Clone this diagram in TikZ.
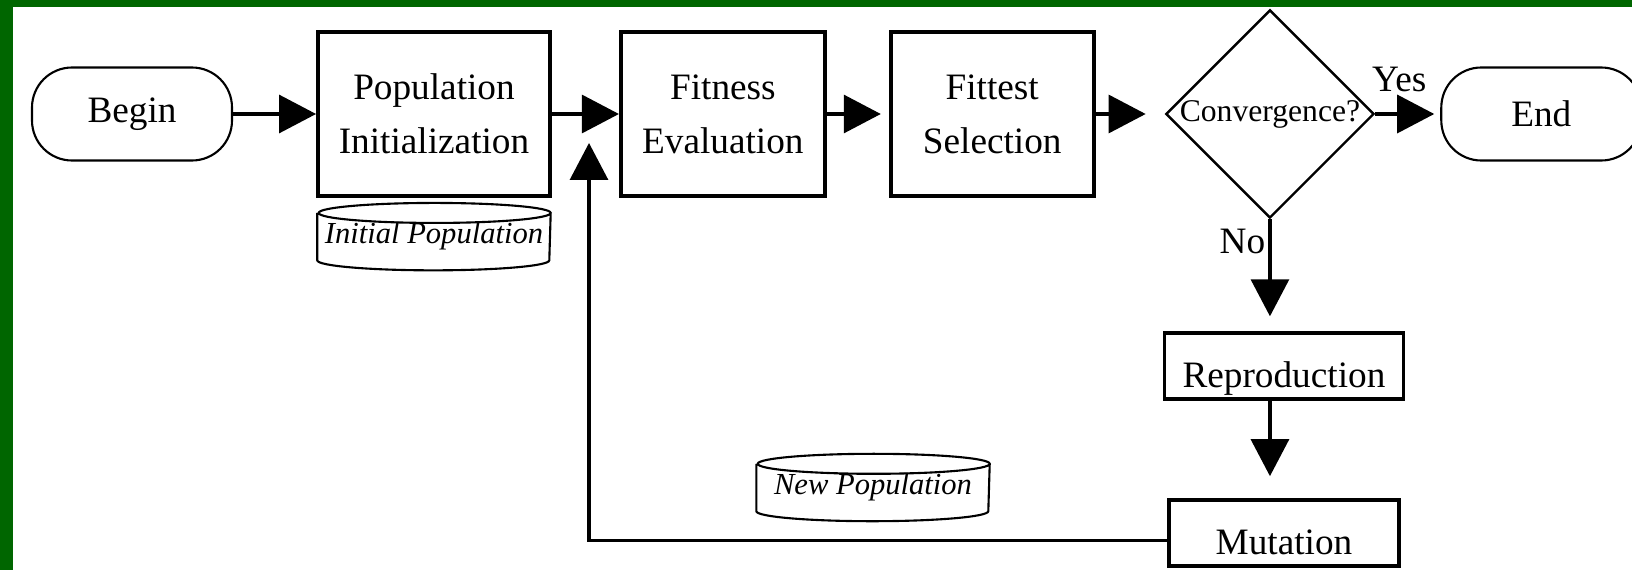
\documentclass[tikz,border=0pt]{standalone}
\usepackage{xcolor}
\usepackage{fontspec}
\setmainfont{Liberation Serif}
\usepackage{tikz}
\usetikzlibrary{shapes.geometric, arrows.meta, positioning, calc}
\definecolor{slidegreen}{HTML}{006600}

\begin{document}
\begin{tikzpicture}[
    node distance=0.65cm and 0.65cm,
    font=\fontsize{10.6}{15.4}\selectfont,
    box/.style={rectangle, draw=black, line width=1.1pt, minimum width=2.04cm, minimum height=1.64cm, align=center, inner sep=2pt},
    terminal/.style={rectangle, rounded corners=0.4cm, draw=black, line width=0.6pt, minimum width=2cm, minimum height=0.93cm},
    decision/.style={diamond, draw=black, line width=0.7pt, inner sep=0pt, font=\fontsize{9}{10}\selectfont},
    smallbox/.style={rectangle, draw=black, line width=1.1pt, minimum height=0.66cm, text height=1.2em, text depth=0pt},
    store/.style={rectangle, inner sep=0pt, minimum width=2.32cm, minimum height=0.66cm, font=\fontsize{8.7}{10}\selectfont\itshape},
    storeline/.style={line width=0.6pt},
    arrow/.style={-{Triangle[length=3.7mm, width=3.8mm]}, line width=0.9pt}
]
    \useasboundingbox (0,0) rectangle (16.32,-5.69);
    \fill[slidegreen] (-0.1,0.1) rectangle (16.5,-5.9);
    \fill[white] (0.13,-0.07) rectangle (16.5,-5.9);

    \node[terminal] (begin) at (1.32,-1.14) {Begin};
    \node[box, minimum width=2.32cm, right=0.83cm of begin] (popinit) {Population\\Initialization};
    \node[box, right=0.67cm of popinit] (fitness) {Fitness\\Evaluation};
    \node[box, minimum width=2.03cm, right=0.62cm of fitness] (fittest) {Fittest\\Selection};
    \node[decision, right=0.69cm of fittest] (conv) {Convergence?};
    \node[terminal, right=0.65cm of conv] (stop) {End};

    \node[smallbox, minimum width=2.39cm, below=1.12cm of conv, xshift=0.14cm] (repro) {Reproduction};
    \node[smallbox, minimum width=2.30cm, below=0.97cm of repro] (mutation) {Mutation};

    \node[store, below=0.05cm of popinit] (initpop) {\raisebox{-0.6mm}{Initial Population}};
    \node[store] (newpop) at (8.73,-4.875) {\raisebox{-0.6mm}{New Population}};
    \draw[storeline] ([yshift=-1mm]initpop.north west) -- ([yshift=1mm]initpop.south west) arc[start angle=180, end angle=360, x radius=11.6mm, y radius=1mm] -- ([yshift=-1mm]initpop.north east) arc[start angle=0, end angle=360, x radius=11.6mm, y radius=1mm];
    \draw[storeline] ([yshift=-1mm]newpop.north west) -- ([yshift=1mm]newpop.south west) arc[start angle=180, end angle=360, x radius=11.6mm, y radius=1mm] -- ([yshift=-1mm]newpop.north east) arc[start angle=0, end angle=360, x radius=11.6mm, y radius=1mm];

    \node (yes) at ([xshift=0.24cm, yshift=0.35cm]conv.east) {Yes};
    \node (no) at ([xshift=-0.275cm, yshift=-0.22cm]conv.south) {No};

    \draw[arrow] (begin) -- (popinit);
    \draw[arrow] (popinit) -- (fitness);
    \draw[arrow, shorten >=0.08cm] (fitness) -- (fittest);
    \draw[arrow, shorten >=0.19cm] (fittest) -- (conv);
    \draw[arrow, shorten >=0.06cm] (conv) -- (stop);
    \draw[arrow, shorten >=0.15cm] (conv.south) -- (conv.south |- repro.north);
    \draw[arrow, shorten >=0.22cm] (conv.south |- repro.south) -- (conv.south |- mutation.north);
    \coordinate (merge) at (5.89,-1.43);
    \draw[arrow] ([yshift=-0.07cm]mutation.west) -| (merge);
\end{tikzpicture}
\end{document}
